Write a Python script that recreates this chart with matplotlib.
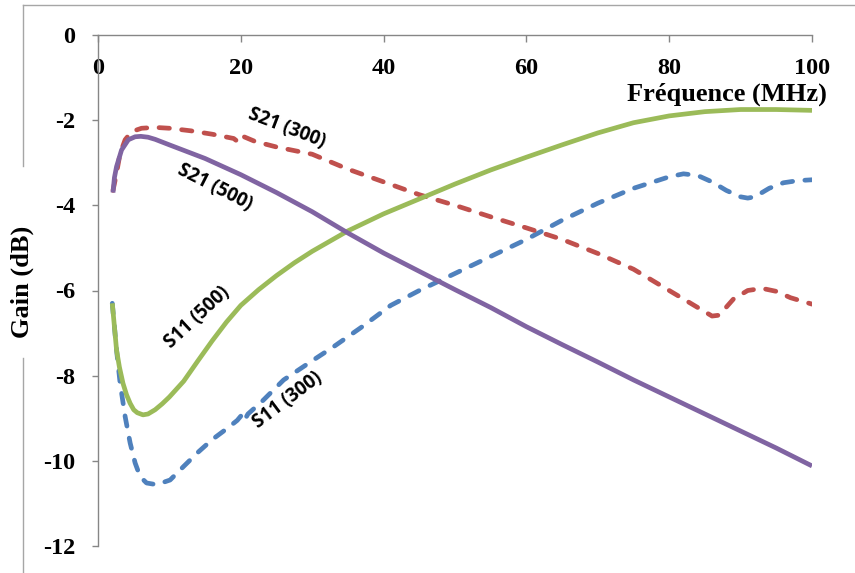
import numpy as np
import matplotlib
matplotlib.use("Agg")
import matplotlib.pyplot as plt
from matplotlib.lines import Line2D

plt.rcParams['axes.unicode_minus'] = False

# values (x in MHz, gain in dB)
x_s11_300 = [2, 2.6, 3.1, 3.8, 4.5, 5.2, 5.9, 6.8, 8.2, 10.1, 12, 14, 16, 18, 19.5, 20, 20.4, 21, 23, 26, 30, 33,
             37, 41, 45, 50, 55, 60, 65, 70, 75, 80, 82, 84, 86, 88, 90, 91, 92, 94, 96, 98, 100]
s11_300 = [-6.3, -7.4, -8.18, -8.96, -9.58, -10.05, -10.37, -10.52, -10.56, -10.45, -10.13, -9.8, -9.5, -9.25,
           -9.05, -8.95, -9.08, -8.9, -8.6, -8.1, -7.65, -7.32, -6.85, -6.35, -6.0, -5.6, -5.2, -4.8, -4.35, -3.95,
           -3.6, -3.33, -3.26, -3.3, -3.45, -3.65, -3.8, -3.83, -3.8, -3.6, -3.47, -3.42, -3.4]

x_s11_500 = [2, 2.3, 2.6, 3, 3.5, 4, 4.5, 5, 5.5, 6.3, 7, 8, 9, 10, 12, 14, 16, 18, 20, 22.5, 25, 27.5, 30, 35,
             40, 45, 50, 55, 60, 65, 70, 75, 80, 85, 90, 95, 100]
s11_500 = [-6.3, -6.85, -7.4, -7.8, -8.18, -8.45, -8.65, -8.8, -8.87, -8.92, -8.9, -8.8, -8.66, -8.5, -8.13,
           -7.65, -7.18, -6.74, -6.35, -5.98, -5.65, -5.35, -5.08, -4.6, -4.2, -3.85, -3.5, -3.17, -2.87, -2.58,
           -2.3, -2.06, -1.9, -1.8, -1.75, -1.75, -1.77]

x_s21_300 = [2.1, 2.5, 3.1, 3.8, 4.7, 6.1, 8, 10, 13, 16, 19, 19.7, 20.3, 22, 25, 30, 35, 40, 45, 50, 55, 60, 65,
             70, 75, 80, 83, 86, 87, 89, 91, 93, 95, 97, 100]
s21_300 = [-3.65, -3.33, -2.78, -2.46, -2.27, -2.19, -2.17, -2.19, -2.25, -2.33, -2.43, -2.52, -2.38, -2.5, -2.63,
           -2.8, -3.15, -3.45, -3.75, -4.0, -4.27, -4.53, -4.8, -5.13, -5.5, -6.0, -6.3, -6.6, -6.58, -6.2, -6.0,
           -5.95, -6.02, -6.17, -6.32]

x_s21_500 = [2.1, 2.3, 2.6, 3.3, 4.25, 5.2, 6, 7, 8, 10, 15, 20, 25, 30, 35, 40, 45, 50, 55, 60, 65, 70, 75, 80,
             85, 90, 95, 100]
s21_500 = [-3.7, -3.35, -3.09, -2.7, -2.46, -2.39, -2.38, -2.4, -2.45, -2.58, -2.9, -3.28, -3.7, -4.15, -4.65,
           -5.12, -5.55, -5.98, -6.4, -6.85, -7.27, -7.68, -8.1, -8.5, -8.9, -9.3, -9.7, -10.12]

x_ticks = [0, 20, 40, 60, 80, 100]
y_ticks = [0, -2, -4, -6, -8, -10, -12]

serif = ['Liberation Serif', 'DejaVu Serif']
sans = ['Open Sans', 'DejaVu Sans']
grey = '#868686'

fig = plt.figure(figsize=(8.55, 5.73), dpi=100)
ax = fig.add_axes([98/855, 1-546/573, 714/855, 511/573])

lw = 3.4
dash = dict(linestyle=(0, (2.2, 2.6)), dash_capstyle='round')
ax.plot(x_s11_300, s11_300, color='#4F81BD', lw=lw, **dash)
ax.plot(x_s21_300, s21_300, color='#C0504D', lw=lw, **dash)
ax.plot(x_s11_500, s11_500, color='#9BBB59', lw=lw, solid_capstyle='butt', solid_joinstyle='round')
ax.plot(x_s21_500, s21_500, color='#8064A2', lw=lw, solid_capstyle='butt', solid_joinstyle='round')

ax.set_xlim(0, 100)
ax.set_ylim(-12, 0)
ax.set_xticks(x_ticks)
ax.set_yticks(y_ticks)
ax.set_yticklabels([str(v) for v in y_ticks], fontfamily=serif, fontweight='bold', fontsize=17.5)
ax.set_xticklabels([str(v) for v in x_ticks], fontfamily=serif, fontweight='bold', fontsize=17.5)

ax.xaxis.set_ticks_position('top')
ax.tick_params(axis='x', direction='in', length=5, width=1, color=grey,
               labeltop=True, labelbottom=False, pad=-31.7)
ax.tick_params(axis='y', direction='out', length=4.5, width=1, color=grey, pad=12)
for s in ['right', 'bottom']:
    ax.spines[s].set_visible(False)
for s in ['left', 'top']:
    ax.spines[s].set_color(grey)
    ax.spines[s].set_linewidth(1)
ax.patch.set_visible(False)

ax.text(0.881, 0.8845, 'Fréquence (MHz)', transform=ax.transAxes, ha='center', va='center',
        fontfamily=serif, fontweight='bold', fontsize=19)
fig.text(22/855, 1-282/573, 'Gain (dB)', rotation=90, ha='center', va='center',
         fontfamily=serif, fontweight='bold', fontsize=19)

# chart area frame (partly hidden behind the axis title)
fig.add_artist(Line2D([23/855, 1], [1-5/573, 1-5/573], color='#a6a6a6', lw=1))
fig.add_artist(Line2D([23/855, 23/855], [1-5/573, 1-166/573], color='#a6a6a6', lw=1))
fig.add_artist(Line2D([23/855, 23/855], [1-358/573, 0], color='#a6a6a6', lw=1))

lbl = dict(fontfamily=sans, fontweight='bold', fontsize=13.5, ha='center', va='center', rotation_mode='anchor')
ax.text(26.5, -2.18, 'S21 (300)', rotation=-21, **lbl)
ax.text(16.4, -3.57, 'S21 (500)', rotation=-27, **lbl)
ax.text(13.9, -6.64, 'S11 (500)', rotation=43, **lbl)
ax.text(26.5, -8.57, 'S11 (300)', rotation=37, **lbl)

fig.savefig('out.png', dpi=100)
